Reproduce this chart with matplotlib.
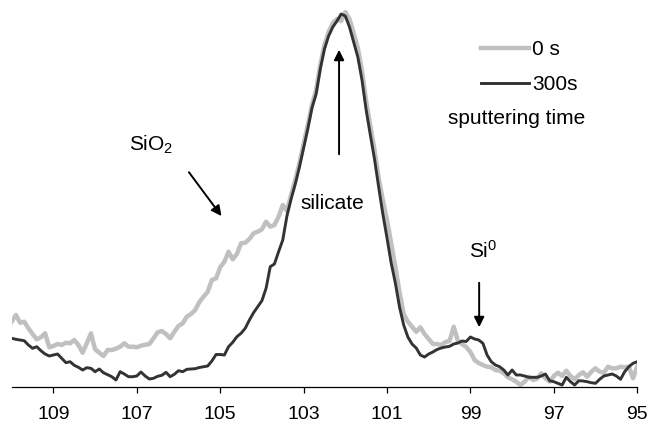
import numpy as np
import matplotlib
matplotlib.use("Agg")
import matplotlib.pyplot as plt

# Fuente tipo Arial
plt.rcParams['font.family'] = ['Liberation Sans', 'DejaVu Sans']
plt.rcParams['mathtext.fontset'] = 'custom'
plt.rcParams['mathtext.rm'] = 'Liberation Sans'
plt.rcParams['mathtext.default'] = 'regular'

# Binding energy (eV), 0.1 eV steps from 110 down to 95
binding_energy = np.linspace(110.0, 95.0, 151)

# Intensity (arb. units), sputtering time 0 s
intensity_0s = [
    65.3, 72.0, 64.3, 65.3, 58.7, 53.0, 47.7, 49.7, 53.7, 39.7,
    41.0, 43.0, 42.0, 44.3, 43.7, 47.0, 42.0, 34.3, 43.7, 53.7,
    37.7, 34.3, 31.0, 37.0, 37.0, 38.3, 40.3, 43.7, 40.3, 40.3,
    39.7, 41.3, 42.3, 43.0, 48.7, 54.7, 56.0, 53.0, 48.7, 55.3,
    61.0, 63.7, 70.3, 73.0, 77.0, 85.0, 90.3, 95.3, 107.0, 108.7,
    119.7, 125.3, 135.3, 127.7, 133.0, 143.7, 144.3, 148.0, 153.7, 155.3,
    157.7, 165.3, 160.3, 162.0, 170.3, 182.0, 176.0, 192.0, 207.0, 224.0,
    243.0, 262.0, 282.0, 297.0, 322.0, 342.0, 355.0, 364.0, 368.0, 366.0,
    375.0, 368.0, 354.0, 339.0, 316.0, 286.0, 261.0, 237.0, 209.0, 187.0,
    167.0, 144.0, 120.0, 95.0, 73.0, 65.3, 60.3, 55.3, 59.7, 53.0,
    48.0, 43.0, 43.0, 42.0, 45.0, 46.0, 60.3, 46.0, 43.0, 40.0,
    35.0, 27.0, 24.0, 22.0, 20.3, 19.7, 17.0, 16.3, 13.7, 9.7,
    7.7, 5.3, 2.0, 5.3, 10.3, 7.0, 8.3, 13.7, 8.7, 5.3,
    11.0, 14.3, 11.0, 16.3, 11.0, 7.7, 12.0, 14.7, 10.3, 15.3,
    18.7, 15.3, 14.3, 20.3, 18.7, 18.7, 20.3, 19.7, 20.3, 8.7,
    20.3,
]

# Intensity (arb. units), sputtering time 300 s
intensity_300s = [
    48.7, 47.7, 47.0, 46.3, 42.0, 38.7, 40.3, 36.3, 33.0, 31.0,
    32.0, 33.0, 28.7, 24.3, 25.3, 21.7, 19.7, 17.0, 19.3, 18.7,
    15.3, 18.0, 14.3, 12.3, 10.3, 7.0, 15.3, 13.0, 10.3, 10.3,
    11.0, 15.0, 11.0, 8.0, 8.7, 10.7, 11.7, 14.7, 10.3, 12.7,
    16.3, 15.3, 17.7, 18.0, 18.3, 19.5, 20.3, 21.0, 26.0, 32.5,
    32.5, 32.0, 40.3, 44.7, 50.3, 53.7, 58.7, 67.0, 74.3, 80.3,
    86.3, 98.7, 120.3, 123.0, 135.3, 147.0, 171.0, 188.0, 203.0, 220.0,
    239.0, 258.0, 279.0, 293.0, 318.0, 338.0, 351.0, 360.0, 366.0, 373.0,
    371.0, 360.0, 345.0, 330.0, 307.0, 277.0, 252.0, 228.0, 200.0, 173.0,
    149.0, 124.0, 104.0, 80.0, 62.0, 50.0, 43.0, 39.0, 32.0, 30.0,
    33.0, 35.0, 37.5, 39.0, 40.0, 40.7, 43.0, 44.0, 46.0, 45.5,
    50.0, 48.0, 47.0, 43.7, 32.0, 25.3, 22.0, 20.3, 17.0, 12.0,
    17.0, 12.0, 12.0, 11.0, 9.7, 9.7, 9.7, 11.0, 13.0, 6.3,
    5.3, 3.7, 2.0, 9.7, 5.3, 2.0, 6.3, 6.0, 5.3, 4.3,
    3.7, 7.7, 11.0, 12.0, 13.0, 11.0, 7.7, 15.3, 20.3, 23.7,
    25.3,
]

tick_values = [109, 107, 105, 103, 101, 99, 97, 95]

fig = plt.figure(figsize=(6.51, 4.23), dpi=100)
ax = fig.add_axes([0.018, 0.0851, 0.9608, 0.9149])

ax.plot(binding_energy, intensity_0s, color='#c0c0c0', linewidth=3.2,
        label='0 s', solid_joinstyle='round')
ax.plot(binding_energy, intensity_300s, color='#333333', linewidth=2.1,
        label='300s', solid_joinstyle='round')

ax.set_xlim(110, 95)
ax.set_ylim(0, 387)

# Solo el eje inferior
for side in ['left', 'top', 'right']:
    ax.spines[side].set_visible(False)
ax.spines['bottom'].set_linewidth(0.9)
ax.set_yticks([])
ax.set_xticks(tick_values)
ax.set_xticklabels([str(v) for v in tick_values])
ax.tick_params(axis='x', direction='out', length=4.5, width=0.9,
               labelsize=14, pad=9)

# Leyenda
leg = ax.legend(loc='upper left', bbox_to_anchor=(0.739, 0.905),
                bbox_transform=fig.transFigure, frameon=False,
                fontsize=15, handlelength=2.3, handletextpad=0.15,
                borderpad=0, borderaxespad=0, labelspacing=0.75)
fig.text(0.7934, 0.721, 'sputtering time', fontsize=15,
         ha='center', va='center')

# Anotaciones
arrow = dict(arrowstyle='-|>', color='black', lw=1.4, mutation_scale=15)
ax.text(106.66, 242, 'SiO$_2$', fontsize=15, ha='center', va='center')
ax.annotate('', xy=(104.93, 168.7), xytext=(105.79, 217), arrowprops=arrow)

ax.text(102.31, 184, 'silicate', fontsize=15, ha='center', va='center')
ax.annotate('', xy=(102.15, 340), xytext=(102.15, 230), arrowprops=arrow)

ax.text(98.70, 136, 'Si$^0$', fontsize=15, ha='center', va='center')
ax.annotate('', xy=(98.79, 57), xytext=(98.79, 107), arrowprops=arrow)

fig.savefig('out.png', dpi=100)
